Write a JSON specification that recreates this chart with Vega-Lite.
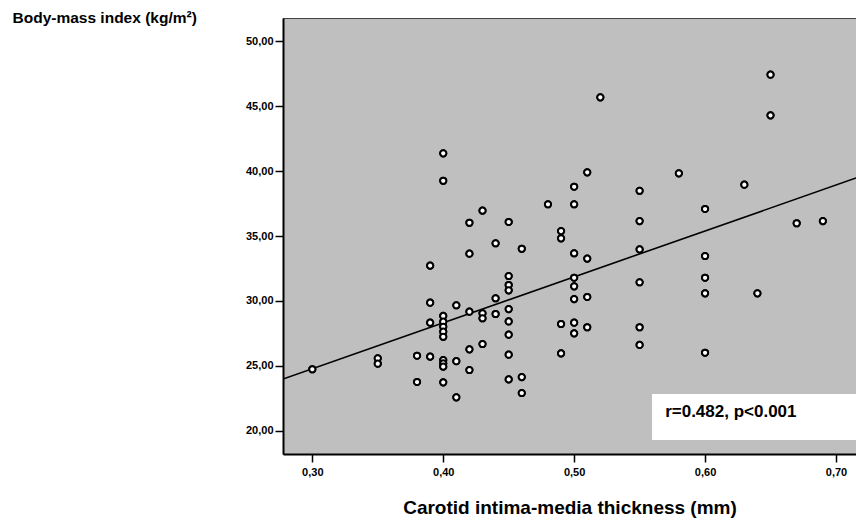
{
  "$schema": "https://vega.github.io/schema/vega-lite/v6.json",
  "width": 573,
  "height": 436,
  "autosize": {"type": "none"},
  "padding": {"left": 283, "top": 18, "right": 0, "bottom": 64},
  "background": "white",
  "config": {
    "view": {"fill": "#bfbfbf", "stroke": "#444444", "strokeWidth": 1},
    "axis": {
      "grid": false,
      "domainColor": "black",
      "domainWidth": 2,
      "tickColor": "black",
      "tickWidth": 1.5,
      "tickSize": 8,
      "labelFont": "Liberation Sans",
      "labelFontWeight": "bold",
      "labelFontSize": 11,
      "labelColor": "black",
      "titleFont": "Liberation Sans",
      "titleFontWeight": "bold",
      "titleColor": "black"
    }
  },
  "datasets": {
    "points": [
      {"cimt": 0.30, "bmi": 24.75},
      {"cimt": 0.35, "bmi": 25.59},
      {"cimt": 0.35, "bmi": 25.18},
      {"cimt": 0.38, "bmi": 25.79},
      {"cimt": 0.38, "bmi": 23.77},
      {"cimt": 0.39, "bmi": 32.72},
      {"cimt": 0.39, "bmi": 29.87},
      {"cimt": 0.39, "bmi": 28.33},
      {"cimt": 0.39, "bmi": 25.72},
      {"cimt": 0.40, "bmi": 41.36},
      {"cimt": 0.40, "bmi": 39.25},
      {"cimt": 0.40, "bmi": 28.85},
      {"cimt": 0.40, "bmi": 28.41},
      {"cimt": 0.40, "bmi": 28.02},
      {"cimt": 0.40, "bmi": 27.64},
      {"cimt": 0.40, "bmi": 27.25},
      {"cimt": 0.40, "bmi": 25.46},
      {"cimt": 0.40, "bmi": 25.20},
      {"cimt": 0.40, "bmi": 24.95},
      {"cimt": 0.40, "bmi": 23.74},
      {"cimt": 0.41, "bmi": 29.67},
      {"cimt": 0.41, "bmi": 25.37},
      {"cimt": 0.41, "bmi": 22.59},
      {"cimt": 0.42, "bmi": 36.02},
      {"cimt": 0.42, "bmi": 33.64},
      {"cimt": 0.42, "bmi": 29.18},
      {"cimt": 0.42, "bmi": 26.28},
      {"cimt": 0.42, "bmi": 24.69},
      {"cimt": 0.43, "bmi": 36.95},
      {"cimt": 0.43, "bmi": 29.05},
      {"cimt": 0.43, "bmi": 28.67},
      {"cimt": 0.43, "bmi": 26.69},
      {"cimt": 0.44, "bmi": 34.44},
      {"cimt": 0.44, "bmi": 30.21},
      {"cimt": 0.44, "bmi": 29.00},
      {"cimt": 0.45, "bmi": 36.08},
      {"cimt": 0.45, "bmi": 31.92},
      {"cimt": 0.45, "bmi": 31.23},
      {"cimt": 0.45, "bmi": 30.82},
      {"cimt": 0.45, "bmi": 29.38},
      {"cimt": 0.45, "bmi": 28.43},
      {"cimt": 0.45, "bmi": 27.41},
      {"cimt": 0.45, "bmi": 25.87},
      {"cimt": 0.45, "bmi": 23.97},
      {"cimt": 0.46, "bmi": 34.02},
      {"cimt": 0.46, "bmi": 24.15},
      {"cimt": 0.46, "bmi": 22.92},
      {"cimt": 0.48, "bmi": 37.44},
      {"cimt": 0.49, "bmi": 35.38},
      {"cimt": 0.49, "bmi": 34.82},
      {"cimt": 0.49, "bmi": 28.23},
      {"cimt": 0.49, "bmi": 25.97},
      {"cimt": 0.50, "bmi": 38.79},
      {"cimt": 0.50, "bmi": 37.44},
      {"cimt": 0.50, "bmi": 33.67},
      {"cimt": 0.50, "bmi": 31.79},
      {"cimt": 0.50, "bmi": 31.13},
      {"cimt": 0.50, "bmi": 30.15},
      {"cimt": 0.50, "bmi": 28.33},
      {"cimt": 0.50, "bmi": 27.51},
      {"cimt": 0.51, "bmi": 39.90},
      {"cimt": 0.51, "bmi": 33.26},
      {"cimt": 0.51, "bmi": 30.31},
      {"cimt": 0.51, "bmi": 27.98},
      {"cimt": 0.52, "bmi": 45.67},
      {"cimt": 0.55, "bmi": 38.48},
      {"cimt": 0.55, "bmi": 36.15},
      {"cimt": 0.55, "bmi": 33.97},
      {"cimt": 0.55, "bmi": 31.44},
      {"cimt": 0.55, "bmi": 27.98},
      {"cimt": 0.55, "bmi": 26.62},
      {"cimt": 0.58, "bmi": 39.82},
      {"cimt": 0.60, "bmi": 37.08},
      {"cimt": 0.60, "bmi": 33.46},
      {"cimt": 0.60, "bmi": 31.79},
      {"cimt": 0.60, "bmi": 30.59},
      {"cimt": 0.60, "bmi": 26.02},
      {"cimt": 0.63, "bmi": 38.95},
      {"cimt": 0.64, "bmi": 30.59},
      {"cimt": 0.65, "bmi": 47.41},
      {"cimt": 0.65, "bmi": 44.28},
      {"cimt": 0.67, "bmi": 35.98},
      {"cimt": 0.69, "bmi": 36.15}
    ],
    "fit": [
      {"cimt": 0.2776, "bmi": 24.0},
      {"cimt": 0.7153, "bmi": 39.46}
    ],
    "note": [
      {"label": "r=0.482, p<0.001"}
    ]
  },
  "layer": [
    {
      "data": {"name": "points"},
      "mark": {"type": "point", "shape": "circle", "filled": false, "fill": "white", "fillOpacity": 1, "stroke": "black", "strokeWidth": 2, "size": 38, "opacity": 1},
      "encoding": {
        "x": {
          "field": "cimt",
          "type": "quantitative",
          "scale": {"domain": [0.2776, 0.7153], "nice": false, "zero": false},
          "axis": {
            "values": [0.3, 0.4, 0.5, 0.6, 0.7],
            "labelExpr": "replace(format(datum.value, '.2f'), '.', ',')",
            "labelPadding": 4,
            "title": "Carotid intima-media thickness (mm)",
            "titleFontSize": 19,
            "titleBaseline": "middle",
            "titleY": 53
          }
        },
        "y": {
          "field": "bmi",
          "type": "quantitative",
          "scale": {"domain": [18.23, 51.77], "nice": false, "zero": false},
          "axis": {
            "values": [20, 25, 30, 35, 40, 45, 50],
            "labelExpr": "replace(format(datum.value, '.2f'), '.', ',')",
            "labelPadding": 2,
            "title": "Body-mass index (kg/m²)",
            "titleFontSize": 15.5,
            "titleAngle": 0,
            "titleAlign": "left",
            "titleBaseline": "middle",
            "titleX": -271,
            "titleY": -1
          }
        }
      }
    },
    {
      "data": {"name": "note"},
      "mark": {"type": "rect", "fill": "white", "clip": true},
      "encoding": {
        "x": {"datum": 0.5595, "type": "quantitative"},
        "x2": {"datum": 0.75},
        "y": {"datum": 22.85, "type": "quantitative"},
        "y2": {"datum": 19.31}
      }
    },
    {
      "data": {"name": "note"},
      "mark": {"type": "text", "align": "left", "baseline": "alphabetic", "font": "Liberation Sans", "fontWeight": "bold", "fontSize": 17, "color": "black"},
      "encoding": {
        "x": {"datum": 0.5695, "type": "quantitative"},
        "y": {"datum": 21.08, "type": "quantitative"},
        "text": {"field": "label", "type": "nominal"}
      }
    },
    {
      "data": {"name": "fit"},
      "mark": {"type": "line", "color": "black", "strokeWidth": 1.6, "clip": true},
      "encoding": {
        "x": {"field": "cimt", "type": "quantitative"},
        "y": {"field": "bmi", "type": "quantitative"}
      }
    },
    {
      "data": {"name": "points"},
      "mark": {"type": "point", "shape": "circle", "filled": false, "fill": "white", "fillOpacity": 1, "stroke": "black", "strokeWidth": 2, "size": 38, "opacity": 1},
      "encoding": {
        "x": {"field": "cimt", "type": "quantitative"},
        "y": {"field": "bmi", "type": "quantitative"}
      }
    }
  ]
}
